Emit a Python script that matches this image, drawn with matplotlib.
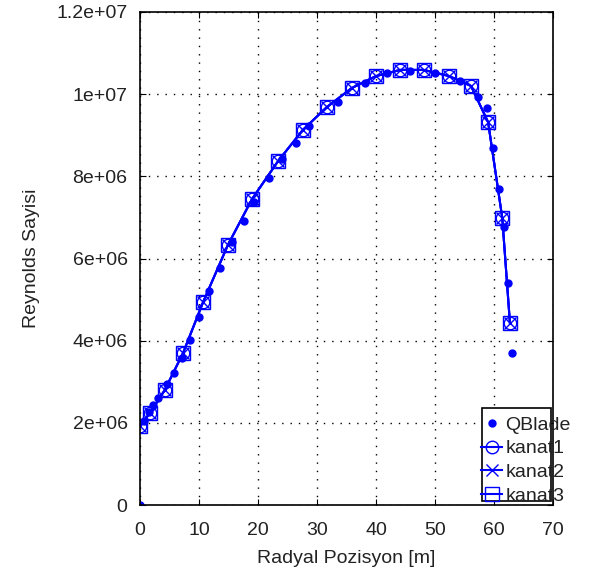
import numpy as np
import matplotlib
matplotlib.use("Agg")
import matplotlib.pyplot as plt
from matplotlib.patches import Rectangle

plt.rcParams['font.family'] = ['Liberation Sans', 'DejaVu Sans']

# QBlade reference values
qblade_r = [0, 0.68, 1.53, 2.20, 3.05, 4.58, 5.76, 7.12, 8.47, 10.0, 11.7, 13.6,
            15.6, 17.6, 19.3, 21.9, 24.1, 26.4, 28.6, 33.6, 38.1, 41.9, 45.8,
            50.0, 54.2, 57.3, 58.8, 59.8, 60.8, 61.7, 62.4, 63.1]
qblade_re = [0, 2.04, 2.26, 2.43, 2.60, 2.95, 3.21, 3.58, 4.02, 4.58, 5.21, 5.77,
             6.40, 6.91, 7.38, 7.96, 8.42, 8.81, 9.23, 9.81, 10.27, 10.52, 10.56,
             10.52, 10.32, 9.93, 9.66, 8.69, 7.69, 6.77, 5.40, 3.70]

# blade section values (all three blades give the same result)
kanat_r = [0, 1.7, 4.2, 7.3, 10.7, 14.9, 19.0, 23.4, 27.6, 31.7, 35.9, 40.0,
           44.1, 48.1, 52.4, 56.1, 59.0, 61.4, 62.7]
kanat1_re = [1.93, 2.24, 2.80, 3.70, 4.94, 6.33, 7.45, 8.37, 9.13, 9.69, 10.15,
             10.44, 10.59, 10.59, 10.44, 10.20, 9.32, 6.99, 4.43]
kanat2_re = list(kanat1_re)
kanat3_re = list(kanat1_re)

xticks = [0, 10, 20, 30, 40, 50, 60, 70]
yticks = [0, 2e6, 4e6, 6e6, 8e6, 1e7, 1.2e7]
ytick_labels = ['0', '2e+06', '4e+06', '6e+06', '8e+06', '1e+07', '1.2e+07']

W, H = 593, 574
fig = plt.figure(figsize=(W / 100, H / 100), dpi=100)
ax = fig.add_axes([140 / W, 1 - 505 / H, 413 / W, 493 / H])

blue = '#0000ff'
txt = '#222222'
ax.plot(qblade_r, np.array(qblade_re) * 1e6, 'o', color=blue, ms=5, ls='none', label='QBlade')
ax.plot(kanat_r, np.array(kanat1_re) * 1e6, '-o', color=blue, ms=9, mfc='none', lw=1.5, label='kanat1')
ax.plot(kanat_r, np.array(kanat2_re) * 1e6, '-x', color=blue, ms=9, lw=1.5, label='kanat2')
ax.plot(kanat_r, np.array(kanat3_re) * 1e6, '-s', color=blue, ms=10, mfc='none', lw=1.5, label='kanat3')

ax.set_xlim(0, 70)
ax.set_ylim(0, 1.2e7)
ax.set_xticks(xticks)
ax.set_yticks(yticks)
ax.set_yticklabels(ytick_labels)
ax.tick_params(direction='in', labelsize=14, length=4, top=True, right=True,
               labeltop=False, labelright=False, labelcolor=txt)
ax.tick_params(axis='x', pad=12)
ax.tick_params(axis='y', pad=9)
ax.grid(True, color='black', linestyle=(0, (1, 5)), linewidth=1.0)
for s in ax.spines.values():
    s.set_linewidth(1.2)

ax.set_xlabel('Radyal Pozisyon [m]', fontsize=14, color=txt, labelpad=8)
ax.set_ylabel('Reynolds Sayisi', fontsize=14, color=txt, labelpad=12)

# octave style legend: small box, text running past its edge
leg = fig.legend(loc='upper left', bbox_to_anchor=(481 / W, 1 - 416 / H),
                 fontsize=14, handlelength=1.1, handletextpad=0.15,
                 borderpad=0, labelspacing=0.32, borderaxespad=0,
                 frameon=False, handles=ax.get_lines())
for t in leg.get_texts():
    t.set_color(txt)
box = Rectangle((482 / W, 1 - 501 / H), 69 / W, 93 / H, transform=fig.transFigure,
                facecolor='white', edgecolor='black', lw=1.2, zorder=3)
fig.add_artist(box)
leg.set_zorder(4)

fig.savefig('out.png', dpi=100)
